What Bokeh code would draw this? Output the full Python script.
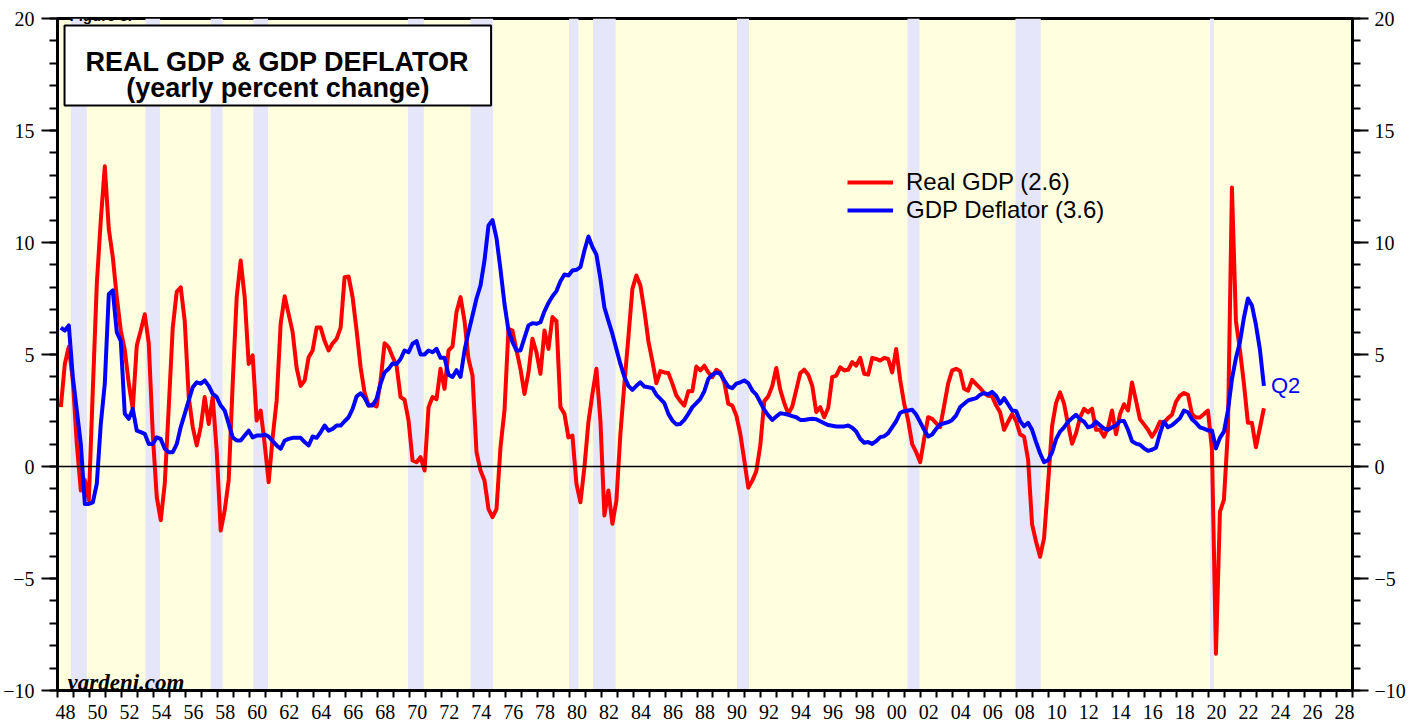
from bokeh.plotting import figure
from bokeh.models import (Range1d, FixedTicker, LinearAxis, CustomJSTickFormatter,
                          BoxAnnotation, Label, Span, Legend, LegendItem)
from bokeh.embed import file_html
from bokeh.resources import INLINE

# ---------------- data (yearly % change, quarterly from 1948Q1 to 2023Q2) ----------------
start_year = 1948
real_gdp = [
    2.65, 4.58, 5.36, 3.84, 1.0, -1.07, -0.6, -1.5, 3.4, 8.15, 11.0, 13.4,
    10.6, 9.35, 7.56, 6.07, 5.2, 3.7, 2.57, 5.4, 6.07, 6.8, 5.5, 1.46,
    -1.37, -2.4, -0.77, 2.65, 6.2, 7.8, 8.0, 6.5, 3.1, 1.76, 0.94, 1.76,
    3.1, 1.9, 3.1, 0.7, -2.86, -1.96, -0.6, 3.7, 7.56, 9.2, 7.56, 4.58,
    4.96, 2.05, 2.5, 1.0, -0.7, 1.3, 2.95, 6.37, 7.6, 6.8, 6.0, 4.4,
    3.6, 3.84, 4.88, 5.18, 6.2, 6.2, 5.6, 5.18, 5.5, 5.7, 6.2, 8.45,
    8.48, 7.56, 6.07, 4.43, 3.3, 2.72, 2.77, 2.68, 3.84, 5.5, 5.33, 4.9,
    4.5, 3.1, 2.98, 2.05, 0.27, 0.19, 0.42, -0.18, 2.65, 3.1, 3.0, 4.36,
    3.47, 5.18, 5.36, 6.9, 7.56, 6.5, 4.8, 4.06, 0.64, -0.18, -0.63, -1.9,
    -2.26, -1.9, 0.86, 2.5, 6.15, 6.07, 5.18, 4.36, 3.24, 4.2, 5.7, 5.1,
    4.14, 6.07, 5.25, 6.67, 6.5, 2.65, 2.35, 1.3, 1.38, -0.77, -1.6, -0.03,
    1.98, 3.24, 4.36, 2.05, -2.19, -1.07, -2.56, -1.52, 1.46, 3.7, 5.77, 7.93,
    8.53, 8.08, 6.96, 5.6, 4.7, 3.72, 4.26, 4.2, 4.17, 3.7, 3.17, 2.92,
    2.72, 3.36, 3.36, 4.46, 4.29, 4.5, 4.2, 3.99, 4.32, 4.2, 3.76, 2.8,
    2.72, 2.28, 1.46, 0.27, -0.95, -0.63, -0.21, 0.94, 2.92, 3.13, 3.6, 4.4,
    3.42, 2.83, 2.35, 2.68, 3.42, 4.17, 4.32, 4.1, 3.6, 2.43, 2.65, 2.2,
    2.62, 3.99, 4.06, 4.43, 4.29, 4.32, 4.66, 4.5, 4.85, 4.14, 4.1, 4.85,
    4.8, 4.73, 4.85, 4.8, 4.2, 5.25, 3.87, 2.8, 2.05, 1.0, 0.64, 0.19,
    1.23, 2.2, 2.13, 1.93, 1.76, 2.72, 3.7, 4.29, 4.36, 4.26, 3.47, 3.39,
    3.87, 3.68, 3.5, 3.28, 3.16, 3.13, 2.73, 2.42, 1.64, 2.0, 2.34, 2.03,
    1.44, 1.33, 0.31, -2.58, -3.36, -4.03, -3.2, -0.78, 1.8, 2.84, 3.31, 2.81,
    1.88, 1.02, 1.48, 2.19, 2.58, 2.42, 2.58, 1.64, 1.64, 1.33, 1.72, 2.5,
    1.44, 2.34, 2.78, 2.5, 3.75, 2.94, 2.11, 1.88, 1.64, 1.33, 1.61, 2.0,
    1.95, 2.16, 2.31, 2.89, 3.16, 3.28, 3.2, 2.34, 2.19, 2.19, 2.34, 2.5,
    0.78, -8.36, -2.03, -1.48, 1.6, 12.45, 6.5, 5.2, 3.7, 1.95, 1.95, 0.86,
    1.72, 2.6,
]
gdp_deflator = [
    6.2, 6.07, 6.3, 4.0, 2.5, 1.0, -1.67, -1.67, -1.6, -0.77, 1.9, 3.7,
    7.7, 7.86, 6.0, 5.6, 2.35, 2.13, 2.57, 1.6, 1.53, 1.46, 1.0, 1.0,
    1.3, 1.23, 0.79, 0.64, 0.64, 1.0, 1.76, 2.35, 2.95, 3.54, 3.76, 3.7,
    3.84, 3.6, 3.24, 3.1, 2.72, 2.5, 1.9, 1.3, 1.16, 1.16, 1.38, 1.6,
    1.3, 1.38, 1.38, 1.43, 1.34, 1.13, 0.94, 0.79, 1.16, 1.23, 1.28, 1.28,
    1.28, 1.09, 0.94, 1.34, 1.28, 1.53, 1.83, 1.6, 1.68, 1.83, 1.83, 2.02,
    2.2, 2.57, 3.13, 3.27, 3.07, 2.72, 2.72, 3.02, 3.7, 4.2, 4.36, 4.6,
    4.58, 4.8, 5.18, 5.1, 5.48, 5.6, 5.0, 5.0, 5.18, 5.1, 5.25, 4.85,
    4.85, 4.1, 4.0, 4.3, 4.0, 5.18, 6.0, 6.74, 7.5, 8.08, 9.2, 10.76,
    11.0, 10.2, 8.8, 7.26, 6.07, 5.55, 5.18, 5.18, 5.74, 6.3, 6.4, 6.37,
    6.44, 6.93, 7.3, 7.6, 7.83, 8.27, 8.57, 8.53, 8.75, 8.78, 8.9, 9.64,
    10.27, 9.8, 9.46, 8.38, 7.1, 6.5, 5.92, 5.25, 4.58, 4.0, 3.6, 3.42,
    3.6, 3.76, 3.57, 3.54, 3.5, 3.2, 3.02, 2.83, 2.35, 2.05, 1.88, 1.9,
    2.08, 2.35, 2.65, 2.83, 3.02, 3.36, 3.91, 4.1, 4.2, 4.14, 3.84, 3.57,
    3.5, 3.7, 3.76, 3.84, 3.72, 3.39, 3.21, 2.87, 2.53, 2.28, 2.08, 2.23,
    2.38, 2.35, 2.31, 2.25, 2.2, 2.08, 2.08, 2.11, 2.13, 2.11, 2.02, 1.93,
    1.85, 1.82, 1.79, 1.79, 1.79, 1.83, 1.73, 1.56, 1.24, 1.06, 1.09, 1.01,
    1.13, 1.31, 1.35, 1.49, 1.76, 2.02, 2.4, 2.47, 2.5, 2.53, 2.32, 1.98,
    1.64, 1.34, 1.43, 1.68, 1.88, 1.93, 1.98, 2.08, 2.28, 2.65, 2.8, 2.95,
    3.0, 3.05, 3.2, 3.28, 3.22, 3.33, 3.16, 2.81, 3.05, 2.78, 2.5, 2.48,
    2.03, 1.8, 1.95, 1.64, 1.09, 0.59, 0.19, 0.28, 0.63, 1.22, 1.56, 1.75,
    2.0, 2.16, 2.31, 2.11, 2.0, 1.75, 1.8, 2.0, 1.84, 1.69, 1.64, 1.75,
    1.83, 2.03, 2.03, 1.64, 1.13, 1.02, 0.97, 0.81, 0.7, 0.75, 0.84, 1.48,
    2.0, 1.75, 1.84, 2.0, 2.16, 2.5, 2.42, 2.11, 1.95, 1.75, 1.69, 1.61,
    1.61, 0.81, 1.28, 1.56, 2.5, 3.9, 4.84, 5.55, 6.64, 7.5, 7.19, 6.33,
    5.23, 3.6,
]
series_names = ["Real GDP", "GDP Deflator"]
latest_quarter = "Q2"

# NBER recessions (year, month) start / end
rec_start_year = [1948, 1953, 1957, 1960, 1969, 1973, 1980, 1981, 1990, 2001, 2007, 2020]
rec_start_month = [11, 7, 8, 4, 12, 11, 1, 7, 7, 3, 12, 2]
rec_end_year = [1949, 1954, 1958, 1961, 1970, 1975, 1980, 1982, 1991, 2001, 2009, 2020]
rec_end_month = [10, 5, 4, 2, 11, 3, 7, 11, 3, 11, 6, 4]

x_start, x_end = 1948, 2029
y_min, y_max = -10, 20

# quarterly dates: middle of last month of each quarter
dates = [start_year + i // 4 + (3 * (i % 4 + 1) - 0.5) / 12 for i in range(len(real_gdp))]
rec_left = [y + (m - 1) / 12 for y, m in zip(rec_start_year, rec_start_month)]
rec_right = [y + m / 12 for y, m in zip(rec_end_year, rec_end_month)]

# ---------------- figure ----------------
p = figure(frame_width=1295, frame_height=672,
           x_range=Range1d(x_start, x_end), y_range=Range1d(y_min, y_max),
           output_backend="svg", toolbar_location=None,
           min_border_left=50, min_border_right=50, min_border_top=18, min_border_bottom=28,
           background_fill_color="#FFFFE0", border_fill_color="white",
           outline_line_color="black", outline_line_width=3, outline_line_alpha=1.0)
p.xgrid.visible = False
p.ygrid.visible = False

p.quad(left=rec_left, right=rec_right, bottom=y_min, top=y_max,
       fill_color="#E6E6FA", line_color=None)

p.add_layout(Span(location=0, dimension="width", line_color="black", line_width=1.5))

r_red = p.line(dates, real_gdp, line_color="#FF0000", line_width=4, line_join="round")
r_blue = p.line(dates, gdp_deflator, line_color="#0000FF", line_width=4, line_join="round")

# ---------------- axes ----------------
def style_y(ax, standoff):
    ax.ticker = FixedTicker(ticks=list(range(y_min, y_max + 1, 5)),
                            minor_ticks=list(range(y_min, y_max + 1)))
    ax.major_tick_out = 16
    ax.major_tick_in = 0
    ax.minor_tick_out = 8
    ax.minor_tick_in = 0
    ax.major_tick_line_width = 2
    ax.minor_tick_line_width = 2
    ax.axis_line_width = 3
    ax.major_tick_line_color = "black"
    ax.minor_tick_line_color = "black"
    ax.axis_line_color = "black"
    ax.major_label_text_font = "Liberation Serif"
    ax.major_label_text_font_size = "20px"
    ax.major_label_text_color = "black"
    ax.major_label_standoff = standoff

style_y(p.yaxis[0], 7)
ry = LinearAxis()
style_y(ry, 6)
p.add_layout(ry, "right")

xa = p.xaxis[0]
xa.ticker = FixedTicker(ticks=[y + 0.5 for y in range(x_start, x_end, 2)],
                        minor_ticks=list(range(x_start, x_end + 1)))
xa.formatter = CustomJSTickFormatter(code="return String(Math.floor(tick) % 100).padStart(2, '0');")
xa.major_tick_out = 0
xa.major_tick_in = 0
xa.minor_tick_out = 7
xa.minor_tick_in = 0
xa.minor_tick_line_width = 2
xa.minor_tick_line_color = "black"
xa.axis_line_width = 3
xa.axis_line_color = "black"
xa.major_label_text_font = "Liberation Serif"
xa.major_label_text_font_size = "20px"
xa.major_label_text_color = "black"
xa.major_label_standoff = 7

# ---------------- title box ----------------
p.add_layout(BoxAnnotation(left=1948.44, right=1975.12, bottom=16.12, top=19.69,
                           fill_color="white", fill_alpha=1.0,
                           line_color="black", line_alpha=1.0, line_width=2))
p.add_layout(Label(x=1961.78, y=18.05, text="REAL GDP & GDP DEFLATOR", text_align="center",
                   text_baseline="alphabetic", text_font="Liberation Sans", text_font_style="bold",
                   text_font_size="27px", text_color="black"))
p.add_layout(Label(x=1961.78, y=16.9, text="(yearly percent change)", text_align="center",
                   text_baseline="alphabetic", text_font="Liberation Sans", text_font_style="bold",
                   text_font_size="27px", text_color="black"))

# figure caption in the narrow strip above the frame
p.add_layout(Label(x=1948.75, y=20.13, text="Figure 3.", text_baseline="alphabetic",
                   text_font="Liberation Sans", text_font_style="bold",
                   text_font_size="15px", text_color="black"))

p.add_layout(Label(x=1948.63, y=-9.64, text="yardeni.com", text_baseline="alphabetic",
                   text_font="Liberation Serif", text_font_style="bold italic",
                   text_font_size="23px", text_color="black", level="overlay"))

p.add_layout(Label(x=dates[-1], y=gdp_deflator[-1], x_offset=7, text=latest_quarter,
                   text_baseline="middle", text_font="Liberation Sans", text_font_size="22px",
                   text_color="#0000FF"))

# ---------------- legend ----------------
legend = Legend(items=[
    LegendItem(label=f"{series_names[0]} ({real_gdp[-1]:.1f})", renderers=[r_red]),
    LegendItem(label=f"{series_names[1]} ({gdp_deflator[-1]:.1f})", renderers=[r_blue]),
], location=(790, 466), background_fill_alpha=0, border_line_alpha=0,
    padding=0, margin=0, spacing=0, glyph_width=46, glyph_height=28, label_height=28,
    label_standoff=13, label_text_font="Liberation Sans", label_text_font_size="24px",
    label_text_color="black")
p.add_layout(legend, "center")

open("out.html", "w").write(file_html(p, INLINE))
